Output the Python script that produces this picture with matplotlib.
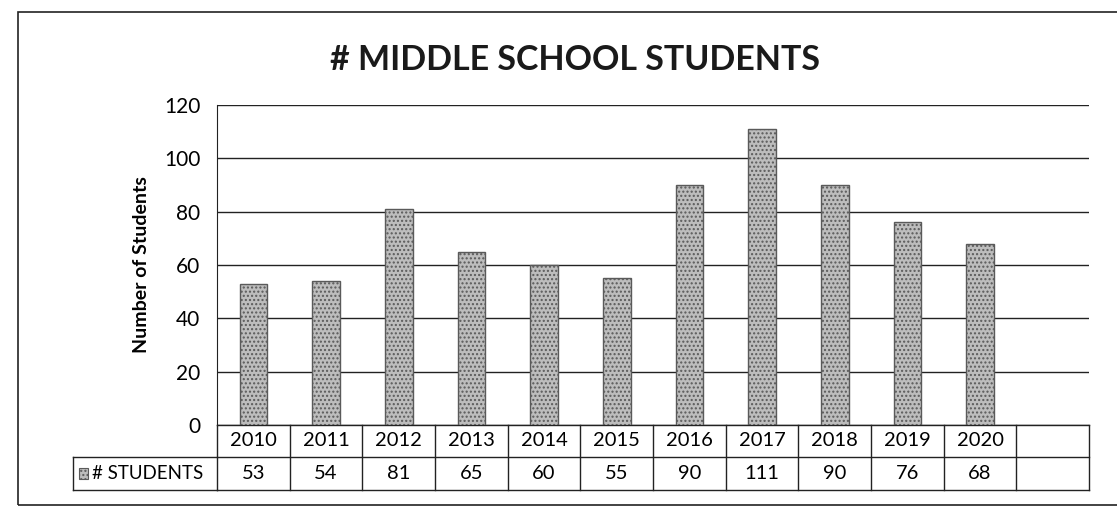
import matplotlib.pyplot as plt
from matplotlib.patches import Rectangle
import matplotlib.transforms as mtransforms

plt.rcParams['font.family'] = ['Lato', 'DejaVu Sans']

years = ['2010', '2011', '2012', '2013', '2014', '2015',
         '2016', '2017', '2018', '2019', '2020']
students = [53, 54, 81, 65, 60, 55, 90, 111, 90, 76, 68]
series_name = '# STUDENTS'
y_ticks = [0, 20, 40, 60, 80, 100, 120]

n_cols = len(years) + 1  # one empty column at the end of the table

fig = plt.figure(figsize=(11.17, 5.21), dpi=100)
ax = fig.add_axes([0.1943, 0.1843, 0.7807, 0.6142])

bar_color = '#bdbdbd'
ax.bar(range(len(years)), students, width=0.38, color=bar_color,
       edgecolor='#5a5a5a', linewidth=1.0, hatch='....', zorder=3)

ax.set_xlim(-0.5, n_cols - 0.5)
ax.set_ylim(0, 120)
ax.set_yticks(y_ticks)
ax.tick_params(axis='y', length=0, pad=12, labelsize=15)
ax.set_xticks([])
ax.grid(axis='y', color='#222222', linewidth=1.0, zorder=0)
for s in ['top', 'right', 'bottom']:
    ax.spines[s].set_visible(False)
ax.spines['left'].set_color('#222222')
ax.set_ylabel('Number of Students', fontsize=14, fontweight='bold')
ax.yaxis.set_label_coords(-0.077, 0.5)

fig.text(0.515, 0.885, '# MIDDLE SCHOOL STUDENTS', ha='center', va='center',
         fontsize=24.5, fontweight='bold', color='#1a1a1a')

# data table under the chart
trans = mtransforms.blended_transform_factory(ax.transData, ax.transAxes)
row_top, row_mid, row_bot = 0.0, -0.1, -0.203
line_kw = dict(color='#222222', linewidth=1.0, transform=trans, clip_on=False)

ax.plot([-0.5, n_cols - 0.5], [row_top, row_top], **line_kw)
ax.plot([-0.5, n_cols - 0.5], [row_mid, row_mid], **line_kw)
ax.plot([-0.5, n_cols - 0.5], [row_bot, row_bot], **line_kw)
for i in range(n_cols + 1):
    ax.plot([i - 0.5, i - 0.5], [row_top, row_bot], **line_kw)

for i, (yr, v) in enumerate(zip(years, students)):
    ax.text(i, (row_top + row_mid) / 2, yr, ha='center', va='center',
            fontsize=14.5, transform=trans)
    ax.text(i, (row_mid + row_bot) / 2, str(v), ha='center', va='center',
            fontsize=14.5, transform=trans)

# row label cell with legend key
label_left = -2.48
ax.plot([label_left, -0.5], [row_mid, row_mid], **line_kw)
ax.plot([label_left, -0.5], [row_bot, row_bot], **line_kw)
ax.plot([label_left, label_left], [row_mid, row_bot], **line_kw)
ax.add_patch(Rectangle((label_left + 0.08, -0.168), 0.12, 0.032,
                       facecolor=bar_color, edgecolor='#5a5a5a', hatch='....',
                       linewidth=0.8, transform=trans, clip_on=False))
ax.text(label_left + 0.26, (row_mid + row_bot) / 2, series_name,
        ha='left', va='center', fontsize=13.5, transform=trans)

# outer chart border
fig.patches.append(Rectangle((18 / 1117, 1 - 505 / 521), 1.2, (505 - 12) / 521,
                             transform=fig.transFigure, fill=False,
                             edgecolor='#222222', linewidth=1.2))

fig.savefig('out.png', dpi=100)
